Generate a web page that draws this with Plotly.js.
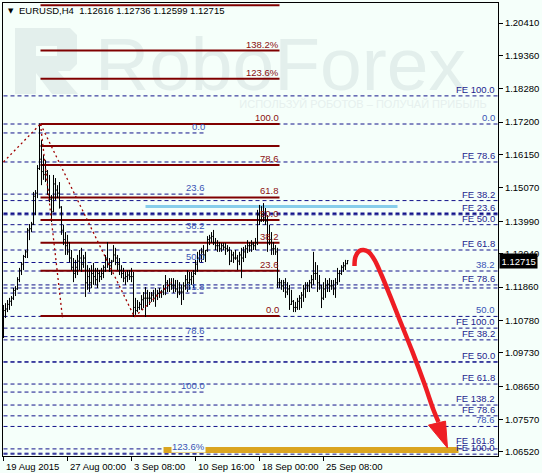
<!DOCTYPE html>
<html><head><meta charset="utf-8">
<script src="https://cdn.plot.ly/plotly-3.0.1.min.js"></script>
<style>
html,body{margin:0;padding:0;background:#F5FFFA;}
#wrap{position:relative;width:542px;height:473px;}
#wm{position:absolute;left:0;top:0;}
#chart{position:absolute;left:0;top:0;width:542px;height:473px;}
</style>
</head><body><div id="wrap">
<svg id="wm" width="542" height="473" xmlns="http://www.w3.org/2000/svg">
  <path fill="#E3EFEC" fill-rule="evenodd" d="M15,28 L70,28 L77,35 L77,64 L70,71 L58,71 L78,94 L52,94 L36,73 L36,94 L15,94 Z M36,46 L36,56 L57,56 L57,46 Z"/>
  <text x="95" y="90" font-family="Liberation Sans, Arial, sans-serif" font-size="75" fill="#E3EFEC">RoboForex</text>
  <text x="363" y="108" text-anchor="middle" font-family="Liberation Sans, Arial, sans-serif" font-size="11" fill="#E6F0EE">ИСПОЛЬЗУЙ РОБОТОВ – ПОЛУЧАЙ ПРИБЫЛЬ</text>
</svg>
<div id="chart"></div></div>
<script>
// ---------- axis data ----------
const tickBars = [0, 32, 64, 96, 128, 160];
const tickLabels = ["19 Aug 2015", "27 Aug 00:00", "3 Sep 08:00", "10 Sep 16:00", "18 Sep 00:00", "25 Sep 08:00"];
const priceTicks = [1.2041, 1.1936, 1.1828, 1.1720, 1.1615, 1.1507, 1.1399, 1.1294, 1.1186, 1.1078, 1.0973, 1.0865, 1.0757, 1.0652];
const priceTickText = ["1.20410", "1.19360", "1.18280", "1.17200", "1.16150", "1.15070", "1.13990", "1.12940", "1.11860", "1.10780", "1.09730", "1.08650", "1.07570", "1.06520"];

// ---------- EURUSD H4 bars ----------
const open = [
1.1100,1.1110,1.1115,1.1130,1.1140,1.1150,1.1175,1.1180,1.1210,1.1240,
1.1260,1.1285,1.1300,1.1370,1.1375,1.1390,1.1480,1.1490,1.1570,1.1600,
1.1560,1.1550,1.1560,1.1500,1.1470,1.1430,1.1520,1.1500,1.1490,1.1445,
1.1370,1.1340,1.1320,1.1300,1.1280,1.1250,1.1230,1.1250,1.1270,1.1280,
1.1260,1.1280,1.1200,1.1220,1.1200,1.1230,1.1220,1.1210,1.1230,1.1220,
1.1230,1.1250,1.1280,1.1260,1.1255,1.1270,1.1290,1.1280,1.1260,1.1240,
1.1230,1.1215,1.1220,1.1225,1.1220,1.1220,1.1120,1.1110,1.1120,1.1130,
1.1145,1.1150,1.1150,1.1150,1.1150,1.1160,1.1150,1.1160,1.1165,1.1170,
1.1170,1.1180,1.1200,1.1190,1.1195,1.1190,1.1190,1.1180,1.1170,1.1170,
1.1170,1.1190,1.1210,1.1200,1.1210,1.1220,1.1230,1.1260,1.1280,1.1290,
1.1300,1.1290,1.1305,1.1340,1.1345,1.1350,1.1330,1.1320,1.1320,1.1310,
1.1320,1.1315,1.1310,1.1305,1.1270,1.1290,1.1280,1.1280,1.1270,1.1290,
1.1280,1.1300,1.1310,1.1320,1.1320,1.1325,1.1320,1.1330,1.1420,1.1400,
1.1420,1.1410,1.1400,1.1330,1.1340,1.1310,1.1310,1.1300,1.1200,1.1200,
1.1190,1.1200,1.1170,1.1180,1.1130,1.1140,1.1120,1.1120,1.1140,1.1150,
1.1160,1.1180,1.1190,1.1190,1.1200,1.1210,1.1230,1.1230,1.1200,1.1190,
1.1150,1.1180,1.1190,1.1195,1.1190,1.1190,1.1180,1.1200,1.1230,1.1230,
1.1250,1.1255,1.12616];
const high = [
1.1128,1.1134,1.1144,1.1151,1.1157,1.1183,1.1189,1.1218,1.1248,1.1267,
1.1290,1.1306,1.1377,1.1390,1.1397,1.1494,1.1500,1.1581,1.1716,1.1662,
1.1614,1.1597,1.1565,1.1549,1.1484,1.1549,1.1539,1.1516,1.1526,1.1448,
1.1387,1.1364,1.1355,1.1332,1.1306,1.1280,1.1274,1.1290,1.1306,1.1313,
1.1290,1.1300,1.1257,1.1248,1.1257,1.1264,1.1248,1.1248,1.1241,1.1248,
1.1257,1.1290,1.1332,1.1280,1.1274,1.1322,1.1313,1.1290,1.1280,1.1257,
1.1248,1.1235,1.1241,1.1241,1.1248,1.1235,1.1151,1.1144,1.1138,1.1160,
1.1170,1.1186,1.1177,1.1170,1.1170,1.1177,1.1183,1.1177,1.1183,1.1177,
1.1193,1.1225,1.1209,1.1215,1.1215,1.1215,1.1209,1.1209,1.1202,1.1193,
1.1202,1.1225,1.1241,1.1235,1.1235,1.1241,1.1274,1.1300,1.1306,1.1313,
1.1322,1.1306,1.1351,1.1355,1.1364,1.1371,1.1345,1.1338,1.1332,1.1329,
1.1329,1.1329,1.1322,1.1316,1.1306,1.1300,1.1306,1.1290,1.1300,1.1313,
1.1316,1.1322,1.1338,1.1332,1.1338,1.1332,1.1345,1.1436,1.1452,1.1448,
1.1458,1.1442,1.1419,1.1387,1.1364,1.1332,1.1322,1.1313,1.1215,1.1209,
1.1209,1.1215,1.1202,1.1193,1.1177,1.1144,1.1138,1.1151,1.1160,1.1170,
1.1193,1.1202,1.1202,1.1209,1.1225,1.1300,1.1267,1.1257,1.1225,1.1193,
1.1202,1.1215,1.1209,1.1215,1.1209,1.1209,1.1215,1.1248,1.1241,1.1257,
1.1267,1.1274,1.12736];
const low = [
1.1021,1.1086,1.1105,1.1112,1.1125,1.1144,1.1157,1.1177,1.1202,1.1225,
1.1241,1.1280,1.1280,1.1338,1.1364,1.1387,1.1419,1.1474,1.1565,1.1516,
1.1533,1.1526,1.1484,1.1461,1.1397,1.1429,1.1468,1.1474,1.1440,1.1355,
1.1322,1.1290,1.1290,1.1267,1.1241,1.1202,1.1215,1.1225,1.1241,1.1235,
1.1248,1.1154,1.1177,1.1170,1.1183,1.1193,1.1193,1.1183,1.1202,1.1209,
1.1215,1.1235,1.1248,1.1235,1.1225,1.1267,1.1257,1.1241,1.1225,1.1215,
1.1202,1.1193,1.1202,1.1209,1.1202,1.1089,1.1096,1.1105,1.1112,1.1112,
1.1118,1.1089,1.1122,1.1128,1.1138,1.1138,1.1122,1.1144,1.1151,1.1151,
1.1160,1.1160,1.1170,1.1170,1.1177,1.1167,1.1170,1.1151,1.1160,1.1128,
1.1144,1.1177,1.1170,1.1177,1.1193,1.1183,1.1225,1.1235,1.1267,1.1267,
1.1274,1.1267,1.1300,1.1322,1.1329,1.1322,1.1306,1.1300,1.1300,1.1300,
1.1306,1.1290,1.1300,1.1257,1.1267,1.1264,1.1274,1.1241,1.1257,1.1215,
1.1267,1.1280,1.1296,1.1300,1.1300,1.1306,1.1306,1.1322,1.1387,1.1397,
1.1397,1.1387,1.1300,1.1322,1.1290,1.1290,1.1290,1.1183,1.1183,1.1177,
1.1170,1.1151,1.1160,1.1112,1.1128,1.1105,1.1105,1.1112,1.1112,1.1118,
1.1138,1.1151,1.1170,1.1170,1.1183,1.1193,1.1209,1.1170,1.1177,1.1118,
1.1144,1.1151,1.1170,1.1170,1.1177,1.1160,1.1151,1.1193,1.1202,1.1225,
1.1235,1.1241,1.12599];
const close = [
1.1110,1.1115,1.1130,1.1140,1.1150,1.1175,1.1180,1.1210,1.1240,1.1260,
1.1285,1.1300,1.1370,1.1375,1.1390,1.1480,1.1490,1.1570,1.1600,1.1560,
1.1550,1.1560,1.1500,1.1470,1.1430,1.1520,1.1500,1.1490,1.1445,1.1370,
1.1340,1.1320,1.1300,1.1280,1.1250,1.1230,1.1250,1.1270,1.1280,1.1260,
1.1280,1.1200,1.1220,1.1200,1.1230,1.1220,1.1210,1.1230,1.1220,1.1230,
1.1250,1.1280,1.1260,1.1255,1.1270,1.1290,1.1280,1.1260,1.1240,1.1230,
1.1215,1.1220,1.1225,1.1220,1.1220,1.1120,1.1110,1.1120,1.1130,1.1145,
1.1150,1.1150,1.1150,1.1150,1.1160,1.1150,1.1160,1.1165,1.1170,1.1170,
1.1180,1.1200,1.1190,1.1195,1.1190,1.1190,1.1180,1.1170,1.1170,1.1170,
1.1190,1.1210,1.1200,1.1210,1.1220,1.1230,1.1260,1.1280,1.1290,1.1300,
1.1290,1.1305,1.1340,1.1345,1.1350,1.1330,1.1320,1.1320,1.1310,1.1320,
1.1315,1.1310,1.1305,1.1270,1.1290,1.1280,1.1280,1.1270,1.1290,1.1280,
1.1300,1.1310,1.1320,1.1320,1.1325,1.1320,1.1330,1.1420,1.1400,1.1420,
1.1410,1.1400,1.1330,1.1340,1.1310,1.1310,1.1300,1.1200,1.1200,1.1190,
1.1200,1.1170,1.1180,1.1130,1.1140,1.1120,1.1120,1.1140,1.1150,1.1160,
1.1180,1.1190,1.1190,1.1200,1.1210,1.1230,1.1230,1.1200,1.1190,1.1150,
1.1180,1.1190,1.1195,1.1190,1.1190,1.1180,1.1200,1.1230,1.1230,1.1250,
1.1255,1.1262,1.12715];
const lastPrice = 1.12715;

// ---------- drawn objects ----------
const redFibTop = 1.1714, redFibBottom = 1.1092;
const redFibRatios = [0, 23.6, 38.2, 50, 61.8, 78.6, 88.6, 100, 123.6, 138.2, 161.8];
const redFibLabels = ["0.0", "23.6", "38.2", "50.0", "61.8", "78.6", "", "100.0", "123.6%", "138.2%", ""];
const midFibStart = 1.1685, midFibEnd = 1.0846;
const midFibRatios = [0, 23.6, 38.2, 50, 61.8, 78.6, 100, 123.6];
const midFibLabels = ["0.0", "23.6", "38.2", "50.0", "61.8", "78.6", "100.0", "123.6%"];
const rightFibStart = 1.1714, rightFibEnd = 1.0468;
const rightFibRatios = [0, 23.6, 38.2, 50, 61.8, 78.6];
const rightFibLabels = ["0.0", "", "38.2", "50.0", "", "78.6"];
const feLevels = [1.1805, 1.1591, 1.1466, 1.1424, 1.1388, 1.1306, 1.1193, 1.1183, 1.1053, 1.1015, 1.0943, 1.0872, 1.0804, 1.0769, 1.0662, 1.0645];
const feLabels = ["FE 100.0", "FE 78.6", "FE 38.2", "FE 23.6", "FE 50.0", "FE 61.8", "FE 78.6", "", "FE 100.0", "FE 38.2", "FE 50.0", "FE 61.8", "FE 138.2", "FE 78.6", "FE 161.8", "FE 100.0"];
const zoneLevel = 1.1447;
const targetZone = [1.0649, 1.0668];
const trendX = [0, 18.5, null, 18.5, 29.5, null, 18.5, 65.5, null, 65.5, 84];
const trendY = [1.1591, 1.1714, null, 1.1714, 1.1086, null, 1.1714, 1.1089, null, 1.1089, 1.1202];
const arrowX = [175.5, 176, 178, 180, 182.5, 185.5, 189, 193.5, 198.5, 204.5, 210.5, 215, 217.5];
const arrowY = [1.1254, 1.1284, 1.1303, 1.1306, 1.1300, 1.1274, 1.1225, 1.1154, 1.1073, 1.0976, 1.0872, 1.0788, 1.0749];
const arrowHeadX = [212.5, 221, 222, 212.5];
const arrowHeadY = [1.0739, 1.0752, 1.0665, 1.0739];

// ---------- build ----------
const BG = '#F5FFFA';
const NAVY = '#12128A';
const MAROON = '#800000';
const FONT = 'Liberation Sans, Arial, sans-serif';
const bars = open.map((_, i) => i);
const XMAX = 247.5;

const shapes = [];
const annotations = [];
function hline(y, x0, x1, color, width, dash) {
  shapes.push({type: 'line', xref: 'x', yref: 'y', x0: x0, x1: x1, y0: y, y1: y, layer: 'below',
    line: {color: color, width: width, dash: dash || 'solid'}});
}
function label(text, x, y, color, bg, ys) {
  if (!text) return;
  const a = {text: text, x: x, y: y, xref: 'x', yref: 'y', xanchor: 'right', yanchor: 'bottom',
    showarrow: false, borderpad: 0, yshift: ys || 0, font: {family: FONT, size: 9.5, color: color}};
  if (bg) a.bgcolor = bg;
  annotations.push(a);
}

// full-width FE lines
feLevels.forEach((lv, i) => { hline(lv, 0, XMAX, NAVY, i === 3 ? 2 : 1, '4px,3px');
  label(feLabels[i], 246, lv, '#1E1E8E', null, feLabels[i] === 'FE 161.8' ? 2 : 0); });
// right fib
rightFibRatios.forEach((r, i) => { const lv = rightFibStart - r / 100 * (rightFibStart - rightFibEnd);
  hline(lv, 0, XMAX, NAVY, 1, '4px,3px'); label(rightFibLabels[i], 246, lv, '#3A55B5'); });
// mid fib
midFibRatios.forEach((r, i) => { const lv = midFibStart - r / 100 * (midFibStart - midFibEnd);
  hline(lv, 0, 101, NAVY, 1, '4px,3px'); label(midFibLabels[i], 101, lv, '#3A55B5', i === midFibRatios.length - 1 ? BG : null); });
// light blue zone line
hline(zoneLevel, 71, 197, '#87CEEB', 3);
// orange target zone
shapes.push({type: 'rect', xref: 'x', yref: 'y', x0: 80, x1: 227.5, y0: targetZone[0], y1: targetZone[1], layer: 'below',
  fillcolor: '#DAA520', line: {width: 0}});
// red fib retracement
redFibRatios.forEach((r, i) => { const lv = redFibBottom + r / 100 * (redFibTop - redFibBottom);
  hline(lv, 18.5, 138, MAROON, 2); label(redFibLabels[i], 138, lv, '#8B1010'); });

function P(px, py) { return [(px - 3) / 495, 1 - (py - 3) / 453]; }
// header
const hp = P(17, 11);
annotations.push({text: 'EURUSD,H4\u00a0\u00a0' + [open[open.length - 1], high[high.length - 1], low[low.length - 1], close[close.length - 1]].map(v => v.toFixed(5)).join(' '),
  xref: 'paper', yref: 'paper', x: hp[0], y: hp[1], xanchor: 'left', yanchor: 'middle', showarrow: false,
  font: {family: FONT, size: 9.5, color: '#000'}});
const tp = P(10.5, 11);
annotations.push({text: '▼', xref: 'paper', yref: 'paper', x: tp[0], y: tp[1], xanchor: 'center', yanchor: 'middle', showarrow: false,
  font: {family: 'DejaVu Sans', size: 7, color: '#000'}});

// x tick labels (left-aligned at ticks, MT4 style)
tickBars.forEach((b, i) => annotations.push({text: tickLabels[i], x: b, xref: 'x', y: 0, yref: 'paper', xanchor: 'left', yanchor: 'top',
  yshift: -3, showarrow: false, font: {family: FONT, size: 9.5, color: '#000'}}));

// current price box
annotations.push({text: lastPrice.toFixed(5), x: 1, xref: 'paper', y: lastPrice, yref: 'y', xanchor: 'left', yanchor: 'middle',
  xshift: 1, showarrow: false, bgcolor: '#000', borderpad: 1.5, font: {family: FONT, size: 9.5, color: '#fff'}});

const traces = [
  {type: 'ohlc', x: bars, open: open, high: high, low: low, close: close, hoverinfo: 'skip',
   increasing: {line: {color: '#000', width: 1}}, decreasing: {line: {color: '#000', width: 1}}, tickwidth: 0.5},
  {type: 'scatter', mode: 'lines', x: trendX, y: trendY, hoverinfo: 'skip',
   line: {color: '#A00000', width: 1.3, dash: '2px,3px'}},
  {type: 'scatter', mode: 'lines', x: arrowX, y: arrowY, hoverinfo: 'skip',
   line: {color: '#EE1D23', width: 4.5, shape: 'spline'}},
  {type: 'scatter', mode: 'lines', x: arrowHeadX, y: arrowHeadY, fill: 'toself', fillcolor: '#EE1D23', hoverinfo: 'skip',
   line: {color: '#EE1D23', width: 1}}
];

const layout = {
  width: 542, height: 473,
  margin: {l: 3, r: 44, t: 3, b: 17, pad: 0},
  paper_bgcolor: 'rgba(0,0,0,0)', plot_bgcolor: 'rgba(0,0,0,0)',
  showlegend: false,
  font: {family: FONT, size: 9.5, color: '#000'},
  xaxis: {type: 'linear', range: [-0.25, XMAX - 0.25], showgrid: false, zeroline: false, showline: true, mirror: true,
    linecolor: '#000', linewidth: 1, ticks: 'outside', ticklen: 4, tickcolor: '#000', tickvals: tickBars,
    showticklabels: false, rangeslider: {visible: false}, fixedrange: true},
  yaxis: {range: [1.0639, 1.21058], side: 'right', showgrid: false, zeroline: false, showline: true, mirror: true,
    linecolor: '#000', linewidth: 1, ticks: 'outside', ticklen: 4, tickcolor: '#000',
    tickvals: priceTicks, ticktext: priceTickText, tickfont: {family: FONT, size: 9.5, color: '#000'}, fixedrange: true},
  shapes: shapes,
  annotations: annotations
};

Plotly.newPlot('chart', traces, layout, {staticPlot: true, displayModeBar: false});
</script>
</body></html>
